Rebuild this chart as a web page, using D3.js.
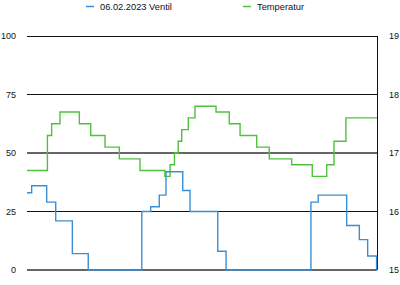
<!DOCTYPE html>
<html>
<head>
<meta charset="utf-8">
<script src="https://cdn.jsdelivr.net/npm/d3@7"></script>
<style>
  body { margin: 0; background: #fff; }
  svg { display: block; font-family: "Liberation Sans", Arial, sans-serif; }
</style>
</head>
<body>
<div id="chart"></div>
<script>
// series names
const seriesNames = ["06.02.2023 Ventil", "Temperatur"];

// valve opening (%) - step start hour and value
const ventilHours = [0, 0.32, 1.35, 1.97, 3.11, 4.2, 7.87, 8.48, 9.07, 9.53, 10.68, 11.18, 13.08, 13.65, 19.47, 19.97, 21.92, 22.79, 23.36, 23.97, 24];
const ventilValues = [33, 36, 29, 21, 7, 0, 25, 27, 32, 42, 34, 25, 8, 0, 29, 32, 19, 13, 6, 0, 0];

// temperature (°C) - step start hour and value
const tempHours = [0, 1.4, 1.69, 2.26, 3.59, 4.37, 5.35, 6.33, 7.75, 9.46, 9.81, 10.11, 10.37, 10.61, 11.06, 11.52, 12.96, 13.87, 14.61, 15.75, 16.61, 18.15, 19.56, 20.55, 21.05, 21.87, 24];
const tempValues = [16.7, 17.3, 17.5, 17.7, 17.5, 17.3, 17.1, 16.9, 16.7, 16.6, 16.8, 17.0, 17.2, 17.4, 17.6, 17.8, 17.7, 17.5, 17.3, 17.1, 16.9, 16.8, 16.6, 16.8, 17.2, 17.6, 17.6];

const leftTicks = [0, 25, 50, 75, 100];
const rightTicks = [15, 16, 17, 18, 19];

const width = 400, height = 285;
const margin = {top: 36, right: 23, bottom: 15, left: 27};
const blue = "#3a8fd4";
const green = "#4fc13c";

const svg = d3.select("#chart").append("svg")
  .attr("width", width)
  .attr("height", height);

const x = d3.scaleLinear()
  .domain([0, 24])
  .range([margin.left, width - margin.right]);

const yLeft = d3.scaleLinear()
  .domain([0, 100])
  .range([height - margin.bottom, margin.top]);

const yRight = d3.scaleLinear()
  .domain([15, 19])
  .range([height - margin.bottom, margin.top]);

// grid lines
svg.append("g")
  .selectAll("line")
  .data(leftTicks)
  .join("line")
  .attr("x1", margin.left)
  .attr("x2", width - margin.right)
  .attr("y1", d => (d % 50 === 0 && d !== 100) ? Math.round(yLeft(d)) : Math.floor(yLeft(d)) + 0.5)
  .attr("y2", d => (d % 50 === 0 && d !== 100) ? Math.round(yLeft(d)) : Math.floor(yLeft(d)) + 0.5)
  .attr("stroke", d => (d % 50 === 0 && d !== 100) ? "#666" : "#111")
  .attr("stroke-width", d => (d % 50 === 0 && d !== 100) ? 2 : 1);

// left labels
svg.append("g")
  .selectAll("text")
  .data(leftTicks)
  .join("text")
  .attr("x", 16)
  .attr("y", d => yLeft(d) + 3)
  .attr("text-anchor", "end")
  .attr("font-size", "9px")
  .attr("fill", "#111")
  .text(d => d);

// right axis
const xr = width - margin.right;
svg.append("line")
  .attr("x1", xr + 0.5).attr("x2", xr + 0.5)
  .attr("y1", margin.top).attr("y2", height - margin.bottom)
  .attr("stroke", "#111");

svg.append("g")
  .selectAll("text")
  .data(rightTicks)
  .join("text")
  .attr("x", 389)
  .attr("y", d => yRight(d) + 3)
  .attr("font-size", "9px")
  .attr("fill", "#111")
  .text(d => d);

// lines
const ventilLine = d3.line()
  .x((d, i) => x(ventilHours[i]))
  .y(d => yLeft(d))
  .curve(d3.curveStepAfter);

const tempLine = d3.line()
  .x((d, i) => x(tempHours[i]))
  .y(d => yRight(d))
  .curve(d3.curveStepAfter);

svg.append("path")
  .attr("d", tempLine(tempValues))
  .attr("fill", "none")
  .attr("stroke", green)
  .attr("stroke-width", 1.4);

svg.append("path")
  .attr("d", ventilLine(ventilValues))
  .attr("fill", "none")
  .attr("stroke", blue)
  .attr("stroke-width", 1.4);

// legend
const legend = svg.append("g");
const legendX = [86, 243];
const legendColors = [blue, green];
seriesNames.forEach((name, i) => {
  legend.append("line")
    .attr("x1", legendX[i]).attr("x2", legendX[i] + 8)
    .attr("y1", 6.5).attr("y2", 6.5)
    .attr("stroke", legendColors[i])
    .attr("stroke-width", 1.5);
  legend.append("text")
    .attr("x", legendX[i] + 14)
    .attr("y", 9.5)
    .attr("font-size", "9.3px")
    .attr("fill", "#111")
    .text(name);
});
</script>
</body>
</html>
